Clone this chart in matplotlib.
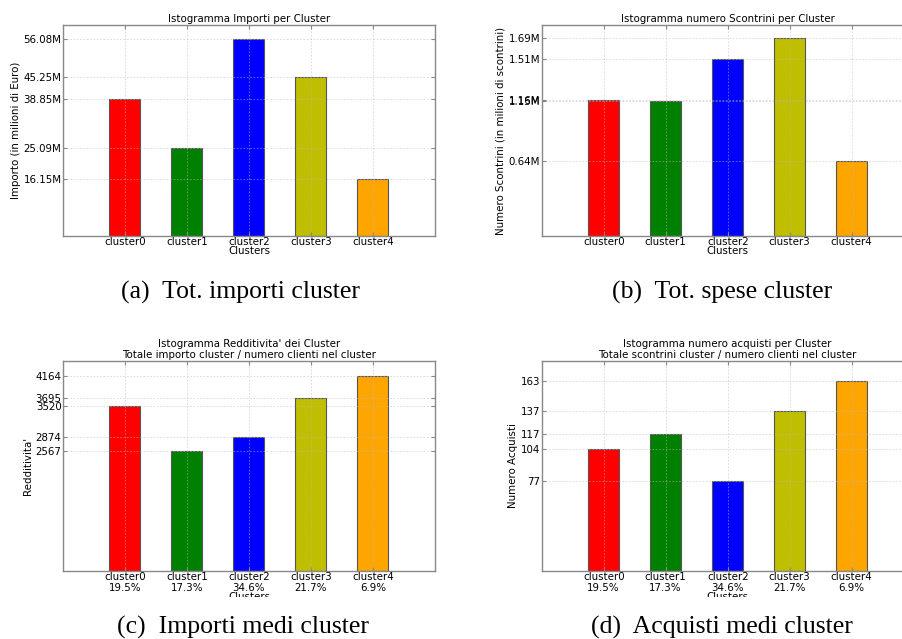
import matplotlib
matplotlib.use('Agg')
import matplotlib.pyplot as plt
from matplotlib.patches import Rectangle

clusters = ['cluster0', 'cluster1', 'cluster2', 'cluster3', 'cluster4']
quota = ['19.5%', '17.3%', '34.6%', '21.7%', '6.9%']
colori = ['red', 'green', 'blue', 'y', 'orange']

importi = [38.85, 25.09, 56.08, 45.25, 16.15]        # milioni di euro
scontrini = [1.16, 1.15, 1.51, 1.69, 0.64]           # milioni di scontrini
redditivita = [3520, 2567, 2874, 3695, 4164]
acquisti = [104, 117, 77, 137, 163]

W, H = 903, 639
FS = 7.4


def px_axes(fig, left, top, width, height):
    return fig.add_axes([left / W, 1 - (top + height) / H, width / W, height / H])


def istogramma(ax, valori, ylim, fmt, titolo, ylabel, xlabels):
    pos = range(1, len(valori) + 1)
    ax.bar(pos, valori, width=0.5, color=colori, edgecolor='#555555',
           linewidth=0.8, zorder=1)
    ax.set_xlim(0, 6)
    ax.set_ylim(*ylim)
    ax.set_xticks(list(pos))
    ax.set_xticklabels(xlabels, fontsize=FS, linespacing=1.1)
    ax.set_yticks(valori)
    ax.set_yticklabels([fmt(v) for v in valori], fontsize=FS)
    ax.set_title(titolo, fontsize=FS, pad=2, linespacing=1.15)
    ax.set_ylabel(ylabel, fontsize=FS, labelpad=2)
    ax.set_xlabel('Clusters', fontsize=FS, labelpad=-1)
    ax.grid(True, color='#bbbbbb', linestyle=(0, (2, 2)), linewidth=0.6,
            alpha=0.6, zorder=2)
    ax.set_axisbelow(False)
    ax.tick_params(direction='in', length=3, color='#888888', pad=1,
                   top=True, right=True)
    for s in ax.spines.values():
        s.set_color('#888888')
        s.set_linewidth(1.0)


fig = plt.figure(figsize=(W / 100, H / 100), dpi=100)

ax_a = px_axes(fig, 63, 25, 372, 211)
istogramma(ax_a, importi, (0, 60), lambda v: f'{v:.2f}M',
           'Istogramma Importi per Cluster',
           'Importo (in milioni di Euro)', clusters)

ax_b = px_axes(fig, 541.7, 25, 372, 211)
istogramma(ax_b, scontrini, (0, 1.8), lambda v: f'{v:.2f}M',
           'Istogramma numero Scontrini per Cluster',
           'Numero Scontrini (in milioni di scontrini)', clusters)

etichette = [f'{c}\n{q}' for c, q in zip(clusters, quota)]

ax_c = px_axes(fig, 63, 360.7, 372, 210.3)
istogramma(ax_c, redditivita, (0, 4500), lambda v: f'{v:.0f}',
           "Istogramma Redditivita' dei Cluster\n"
           "Totale importo cluster / numero clienti nel cluster",
           "Redditivita'", etichette)

ax_d = px_axes(fig, 541.7, 360.7, 372, 210.3)
istogramma(ax_d, acquisti, (0, 180), lambda v: f'{v:.0f}',
           'Istogramma numero acquisti per Cluster\n'
           'Totale scontrini cluster / numero clienti nel cluster',
           'Numero Acquisti', etichette)

# le immagini originali sono tagliate sotto le etichette percentuali
fig.patches.append(Rectangle((0, 1 - 612 / H), 1, 15 / H, transform=fig.transFigure,
                             facecolor='white', edgecolor='none', zorder=1))

cap = dict(fontsize=18.5, family='Liberation Serif', ha='center', va='center', zorder=3)
fig.text(241 / W, 1 - 292 / H, '(a)  Tot. importi cluster', **cap)
fig.text(722 / W, 1 - 292 / H, '(b)  Tot. spese cluster', **cap)
fig.text(243 / W, 1 - 627 / H, '(c)  Importi medi cluster', **cap)
fig.text(722 / W, 1 - 627 / H, '(d)  Acquisti medi cluster', **cap)

fig.savefig('out.png', dpi=100)
